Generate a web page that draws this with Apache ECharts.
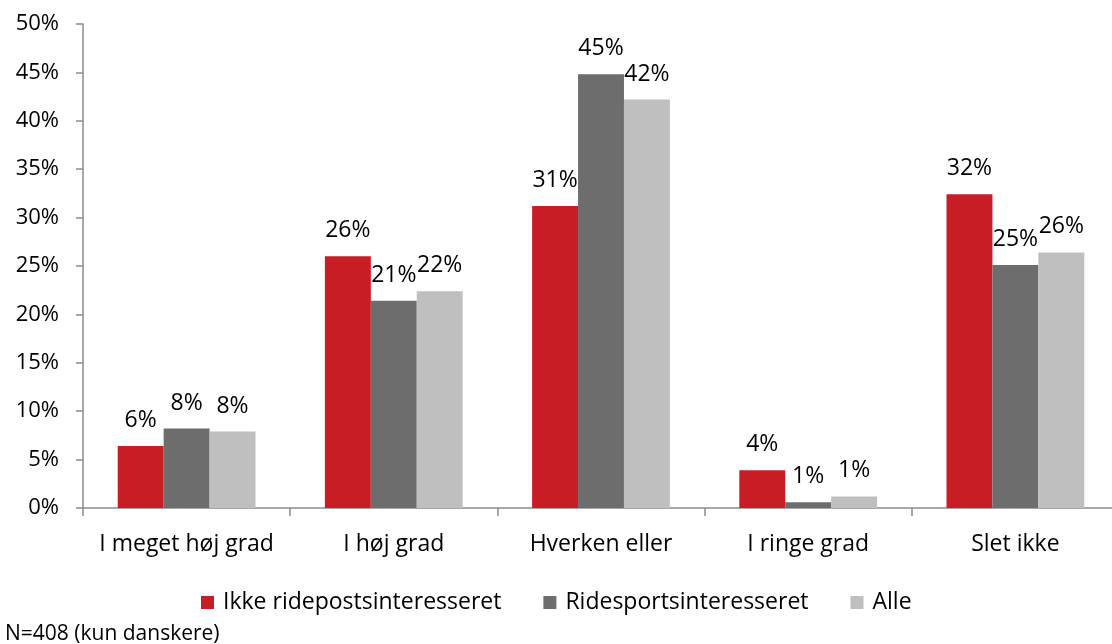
<!DOCTYPE html>
<html>
<head>
<meta charset="utf-8">
<script src="https://cdn.jsdelivr.net/npm/echarts@6/dist/echarts.min.js"></script>
<style>
  html, body { margin: 0; padding: 0; background: #fff; overflow: hidden; }
  #chart { width: 1120px; height: 644px; }
</style>
</head>
<body>
<div id="chart"></div>
<script>
const categories = ['I meget høj grad', 'I høj grad', 'Hverken eller', 'I ringe grad', 'Slet ikke'];
const seriesNames = ['Ikke ridepostsinteresseret', 'Ridesportsinteresseret', 'Alle'];
const ikkeRide = [6.4, 26.0, 31.2, 3.9, 32.4];
const ridesport = [8.2, 21.4, 44.8, 0.6, 25.1];
const alle = [7.9, 22.4, 42.2, 1.2, 26.4];
const colors = ['#C91D26', '#6D6D6D', '#BFBFBF'];
const note = 'N=408 (kun danskere)';

const font = '"Open Sans", "Noto Sans", sans-serif';
const axisColor = '#8C8C8C';

// the plot area runs a little past the right edge of the window, as in the original
const chart = echarts.init(document.getElementById('chart'));

const makeSeries = (name, data, color) => ({
  name, type: 'bar', data,
  barGap: '0%', barCategoryGap: '33.5%',
  itemStyle: { color },
  label: {
    show: true, position: 'top', distance: 14,
    fontFamily: font, fontSize: 23, color: '#000',
    formatter: p => Math.round(p.value) + '%'
  }
});

chart.setOption({
  animation: false,
  textStyle: { fontFamily: font },
  title: {
    text: note, left: 0, top: 619,
    textStyle: { fontFamily: font, fontSize: 21, fontWeight: 'normal', color: '#000' }
  },
  legend: {
    data: seriesNames, left: 196, top: 586,
    itemWidth: 13, itemHeight: 13, itemGap: 42, icon: 'rect',
    textStyle: { fontFamily: font, fontSize: 23, color: '#000', padding: [0, 0, 0, 4] }
  },
  grid: { left: 83, top: 24, right: 1, height: 484, containLabel: false },
  xAxis: {
    type: 'category', data: categories,
    axisLine: { lineStyle: { color: axisColor, width: 1.5 } },
    axisTick: { show: true, length: 8, lineStyle: { color: axisColor, width: 1.5 } },
    axisLabel: { interval: 0, margin: 25, fontFamily: font, fontSize: 23, color: '#000' }
  },
  yAxis: {
    type: 'value', min: 0, max: 50, interval: 5,
    axisLine: { show: true, lineStyle: { color: axisColor, width: 1.5 } },
    axisTick: { show: true, length: 7, lineStyle: { color: axisColor, width: 1.5 } },
    splitLine: { show: false },
    axisLabel: { margin: 24, fontFamily: font, fontSize: 22, color: '#000', formatter: '{value}%' }
  },
  series: [
    makeSeries(seriesNames[0], ikkeRide, colors[0]),
    makeSeries(seriesNames[1], ridesport, colors[1]),
    makeSeries(seriesNames[2], alle, colors[2])
  ]
});
</script>
</body>
</html>
